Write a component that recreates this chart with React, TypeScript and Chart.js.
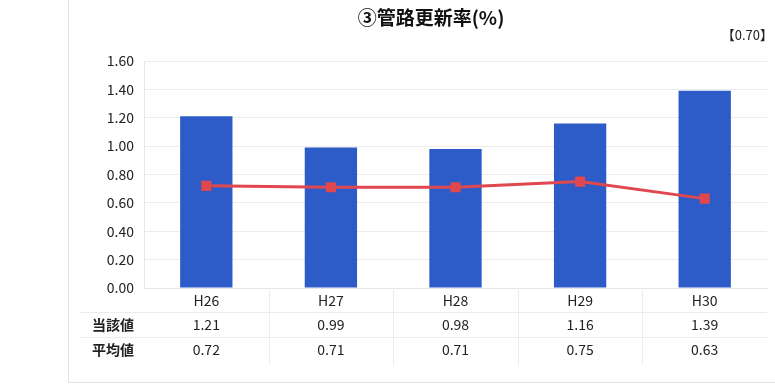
import React, { useEffect, useRef } from "react";
import { Chart, registerables } from "chart.js";

Chart.register(...registerables);

const categories = ["H26", "H27", "H28", "H29", "H30"];
const currentValues = [1.21, 0.99, 0.98, 1.16, 1.39];
const averageValues = [0.72, 0.71, 0.71, 0.75, 0.63];
const rowHeaders = ["当該値", "平均値"];
const titleText = "③管路更新率(%)";
const noteText = "【0.70】";
const yTicks = [0, 0.2, 0.4, 0.6, 0.8, 1.0, 1.2, 1.4, 1.6];

const FONT = "'Noto Sans CJK JP', 'Noto Sans', sans-serif";

export default function App() {
  const ref = useRef<HTMLCanvasElement | null>(null);

  useEffect(() => {
    document.body.style.margin = "0";
    const canvas = ref.current;
    if (!canvas) return;

    const decor = {
      id: "decor",
      beforeDraw(chart: any) {
        const ctx = chart.ctx;
        ctx.save();
        ctx.fillStyle = "#ffffff";
        ctx.fillRect(0, 0, chart.width, chart.height);
        ctx.strokeStyle = "#e2e2e2";
        ctx.lineWidth = 1;
        ctx.beginPath();
        ctx.moveTo(68.5, 0);
        ctx.lineTo(68.5, 382.5);
        ctx.lineTo(775, 382.5);
        ctx.stroke();
        ctx.restore();
      },
      afterDraw(chart: any) {
        const ctx = chart.ctx;
        const area = chart.chartArea;
        ctx.save();
        ctx.fillStyle = "#111";
        ctx.font = `bold 19px ${FONT}`;
        ctx.textAlign = "center";
        ctx.textBaseline = "middle";
        ctx.fillText(titleText, 431, 18);
        ctx.font = `13px ${FONT}`;
        ctx.textAlign = "right";
        ctx.fillStyle = "#222";
        ctx.fillText(noteText, 773, 35);
        ctx.font = `bold 14px ${FONT}`;
        ctx.textAlign = "center";
        ctx.fillText(rowHeaders[0], 113, 325);
        ctx.fillText(rowHeaders[1], 113, 350);
        ctx.strokeStyle = "#ececec";
        ctx.lineWidth = 1;
        const step = (area.right - area.left) / categories.length;
        for (let i = 1; i < categories.length; i++) {
          const x = Math.round(area.left + step * i) + 0.5;
          ctx.beginPath();
          ctx.moveTo(x, area.bottom + 2);
          ctx.lineTo(x, 365);
          ctx.stroke();
        }
        [312.5, 337.5].forEach((y) => {
          ctx.beginPath();
          ctx.moveTo(80, y);
          ctx.lineTo(area.right, y);
          ctx.stroke();
        });
        ctx.restore();
      },
    };

    const chart = new Chart(canvas, {
      type: "bar",
      data: {
        labels: categories.map((c, i) => [
          c,
          currentValues[i].toFixed(2),
          averageValues[i].toFixed(2),
        ]),
        datasets: [
          {
            type: "line",
            label: rowHeaders[1],
            data: averageValues,
            borderColor: "#e0474f",
            backgroundColor: "#e0474f",
            borderWidth: 3,
            pointStyle: "rect",
            pointRadius: 5,
            order: 0,
          } as any,
          {
            type: "bar",
            label: rowHeaders[0],
            data: currentValues,
            backgroundColor: "#2d5cc8",
            categoryPercentage: 1,
            barPercentage: 0.42,
            order: 1,
          },
        ],
      },
      options: {
        responsive: false,
        animation: false,
        layout: { padding: { left: 68, top: 61, right: 4, bottom: 0 } },
        plugins: {
          legend: { display: false },
          tooltip: { enabled: false },
          title: { display: false },
        },
        scales: {
          x: {
            grid: { display: false, drawTicks: false },
            border: { display: true, color: "#e6e6e6" },
            ticks: {
              color: "#222",
              font: { family: FONT, size: 14, lineHeight: 1.75 },
              padding: 0,
              maxRotation: 0,
              autoSkip: false,
            },
            afterFit(scale: any) {
              scale.height = 97;
            },
          },
          y: {
            min: 0,
            max: 1.6,
            afterBuildTicks(scale: any) {
              scale.ticks = yTicks.map((v) => ({ value: v }));
            },
            grid: { color: "#ececec", drawTicks: false },
            border: { display: true, color: "#e6e6e6" },
            ticks: {
              color: "#222",
              font: { family: FONT, size: 14 },
              padding: 10,
              callback: (v: any) => Number(v).toFixed(2),
            },
            afterFit(scale: any) {
              scale.width = 76;
            },
          },
        },
      },
      plugins: [decor],
    });

    return () => chart.destroy();
  }, []);

  return (
    <div style={{ width: 775, height: 385, position: "relative" }}>
      <canvas ref={ref} width={775} height={385} style={{ display: "block" }} />
    </div>
  );
}
